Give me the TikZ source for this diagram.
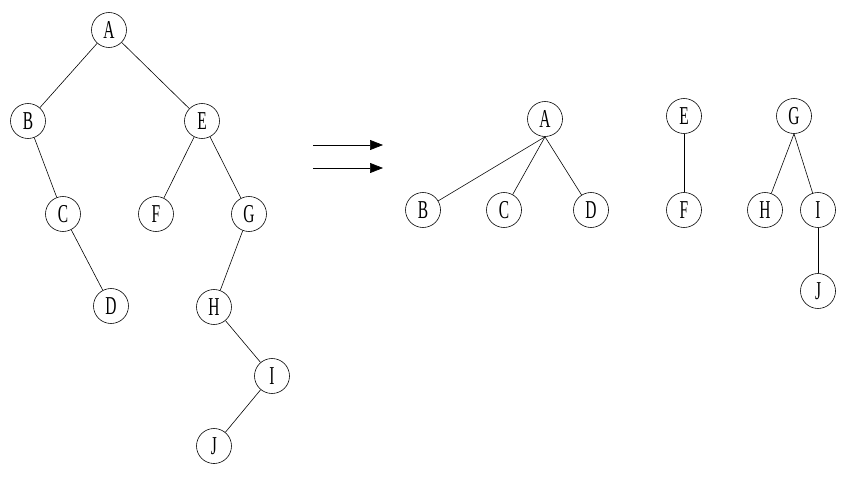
\documentclass[tikz,border=0pt]{standalone}
\usepackage{fontspec}
\usepackage{tikz}
\usetikzlibrary{arrows.meta}
\newfontfamily\vertfont[FakeStretch=0.6]{Liberation Serif}

\begin{document}
\begin{tikzpicture}[x=0.03cm, y=-0.03cm,
  vert/.style={draw, circle, minimum size=1.05cm, inner sep=0pt, line width=0.5pt, font=\vertfont\fontsize{22}{22}\selectfont},
  every path/.style={line width=0.5pt}]
  \useasboundingbox (0,0) rectangle (849,481);
  % tree on the left
  \node[vert] (A) at (109,30) {A};
  \node[vert] (B) at (28,121) {B};
  \node[vert] (E) at (202,121) {E};
  \node[vert] (C) at (63,214) {C};
  \node[vert] (F) at (156,214) {F};
  \node[vert] (G) at (249,214) {G};
  \node[vert] (D) at (111,306) {D};
  \node[vert] (H) at (214,307) {H};
  \node[vert] (I) at (272,376) {I};
  \node[vert] (J) at (214,446) {J};
  \draw (A) -- (B);
  \draw (A) -- (E);
  \draw (B) -- (C);
  \draw (C) -- (D);
  \draw (E) -- (F);
  \draw (E) -- (G);
  \draw (G) -- (H);
  \draw (H) -- (I);
  \draw (I) -- (J);
  % arrows
  \coordinate (s1) at (313,145);
  \coordinate (t1) at (383,145);
  \coordinate (s2) at (313,168);
  \coordinate (t2) at (383,168);
  \draw[-{Triangle[length=3.9mm,width=3mm]}] (s1) -- (t1);
  \draw[-{Triangle[length=3.9mm,width=3mm]}] (s2) -- (t2);
  % forest on the right
  \node[vert] (a) at (545,119) {A};
  \node[vert] (b) at (423,210) {B};
  \node[vert] (c) at (504,210) {C};
  \node[vert] (d) at (591,210) {D};
  \node[vert] (e) at (684,116) {E};
  \node[vert] (f) at (684,210) {F};
  \node[vert] (g) at (794,116) {G};
  \node[vert] (h) at (765,210) {H};
  \node[vert] (i) at (818,210) {I};
  \node[vert] (j) at (818,291) {J};
  \draw (a.south) -- (b);
  \draw (a.south) -- (c);
  \draw (a.south) -- (d);
  \draw (e) -- (f);
  \draw (g.south) -- (h);
  \draw (g.south) -- (i);
  \draw (i) -- (j);
\end{tikzpicture}
\end{document}
